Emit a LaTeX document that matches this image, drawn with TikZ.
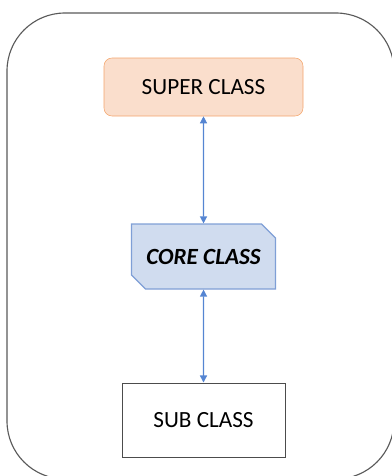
\documentclass[tikz,border=0pt]{standalone}
\usepackage{fontspec}
\setmainfont{Carlito}
\usetikzlibrary{shapes.misc,arrows.meta}

\definecolor{superfill}{HTML}{FADECC}
\definecolor{superline}{HTML}{F4A56C}
\definecolor{corefill}{HTML}{D0DCEF}
\definecolor{coreline}{HTML}{7F9FD6}
\definecolor{linkblue}{HTML}{5585D2}

\tikzset{
	classbox/.style={minimum width=199*0.025cm, minimum height=58*0.025cm, inner sep=0pt, font=\fontsize{16.5}{19}\selectfont},
	link/.style={linkblue, line width=0.9pt, {Triangle[length=5pt,width=5pt]}-{Triangle[length=5pt,width=5pt]}}
}

\begin{document}
\begin{tikzpicture}[x=0.025cm, y=-0.025cm]
				\useasboundingbox (0,0) rectangle (391,476);
				\draw[black!65, line width=0.8pt, rounded corners=58*0.025cm] (7,13) rectangle (394,479);
				
				\node[classbox, draw=superline, fill=superfill, rounded corners=8*0.025cm] (super) at (203.5,87) {SUPER CLASS};
				
				\node[classbox, chamfered rectangle, chamfered rectangle corners={north east,south west}, chamfered rectangle xsep=7*0.025cm, chamfered rectangle ysep=7*0.025cm, minimum width=144*0.025cm, minimum height=65*0.025cm, draw=coreline, fill=corefill, line width=0.8pt, font=\fontsize{16.5}{19}\selectfont\bfseries\itshape] (core) at (203.5,256.5) {CORE CLASS};
				
				\node[classbox, draw=black!70, fill=white, minimum width=163*0.025cm, minimum height=74*0.025cm, line width=0.7pt] (sub) at (203.5,420) {SUB CLASS};
				
				\draw[link] (super) -- (core);
				\draw[link] (core) -- (sub);
			\end{tikzpicture}
\end{document}
